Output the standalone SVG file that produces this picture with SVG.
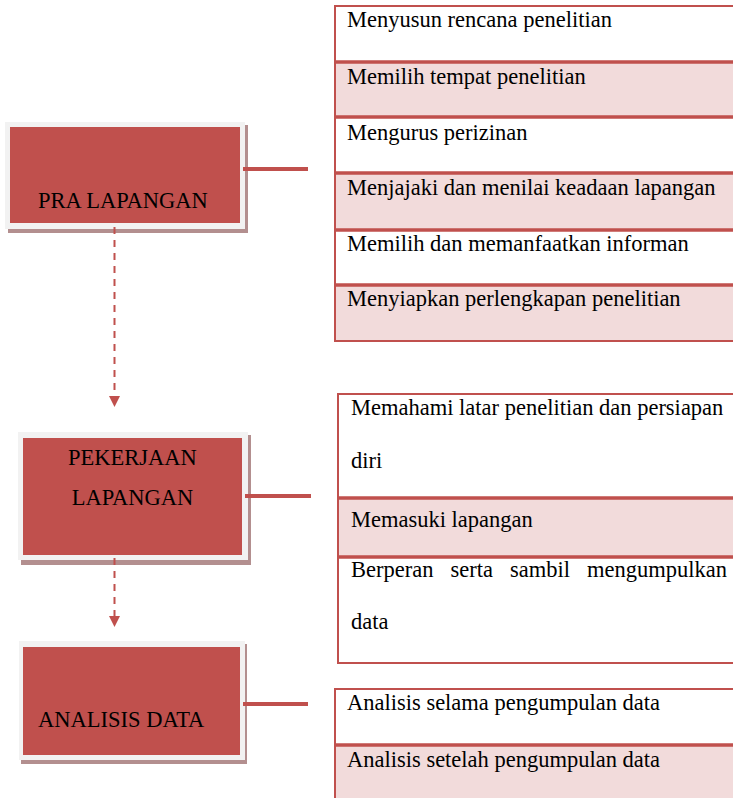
<svg xmlns="http://www.w3.org/2000/svg" width="733" height="798" viewBox="0 0 733 798">
<style>
.sh{fill:#B38F8F}
.lt{fill:#F2F2F2}
.rd{fill:#C0504D}
.bt{font-family:"Liberation Serif","Times New Roman",serif;font-size:22.5px;fill:#000}
.rw{fill:#FFFFFF;stroke:#C0504D;stroke-width:2}
.rp{fill:#F2DBDB;stroke:#C0504D;stroke-width:2}
.dv{stroke:#C0504D;stroke-width:3.5}
.tx{font-family:"Liberation Serif","Times New Roman",serif;font-size:22.5px;fill:#000}
.cn{stroke:#C0504D;stroke-width:4;fill:none}
.da{stroke:#C0504D;stroke-width:2;stroke-dasharray:7 6;fill:none}
</style>
<defs>
<marker id="ah" markerUnits="userSpaceOnUse" markerWidth="12" markerHeight="12" refX="0" refY="6" orient="auto">
<path d="M0,0.5 L11,6 L0,11.5 Z" fill="#C0504D"/>
</marker>
</defs>
<rect width="733" height="798" fill="#FFFFFF"/>

<g id="pra-lapangan">
<rect class="sh" x="8" y="125" width="240" height="108"/>
<rect class="lt" x="5" y="122" width="240" height="107"/>
<rect class="rd" x="10" y="127" width="230" height="96"/>
<text class="bt" x="38" y="208">PRA LAPANGAN</text>
</g>

<g id="pekerjaan-lapangan">
<rect class="sh" x="21" y="435" width="230" height="130"/>
<rect class="lt" x="18" y="432" width="230" height="128"/>
<rect class="rd" x="23" y="438" width="219" height="117"/>
<text class="bt" x="132.5" y="465" text-anchor="middle">PEKERJAAN</text>
<text class="bt" x="132.5" y="505" text-anchor="middle">LAPANGAN</text>
</g>

<g id="analisis-data">
<rect class="sh" x="21" y="644" width="226" height="120"/>
<rect class="lt" x="19" y="641" width="226" height="119"/>
<rect class="rd" x="23" y="647" width="217" height="108"/>
<text class="bt" x="38" y="727">ANALISIS DATA</text>
</g>

<g id="table-pra">
<rect class="rw" x="335" y="6" width="410" height="56"/>
<rect class="rp" x="335" y="62" width="410" height="55"/>
<rect class="rw" x="335" y="117" width="410" height="56"/>
<rect class="rp" x="335" y="173" width="410" height="57"/>
<rect class="rw" x="335" y="230" width="410" height="55"/>
<rect class="rp" x="335" y="285" width="410" height="56"/>
<line class="dv" x1="335" y1="62" x2="733" y2="62"/>
<line class="dv" x1="335" y1="117" x2="733" y2="117"/>
<line class="dv" x1="335" y1="173" x2="733" y2="173"/>
<line class="dv" x1="335" y1="230" x2="733" y2="230"/>
<line class="dv" x1="335" y1="285" x2="733" y2="285"/>
<text class="tx" x="347" y="27">Menyusun rencana penelitian</text>
<text class="tx" x="347" y="84">Memilih tempat penelitian</text>
<text class="tx" x="347" y="140">Mengurus perizinan</text>
<text class="tx" x="347" y="195">Menjajaki dan menilai keadaan lapangan</text>
<text class="tx" x="347" y="251">Memilih dan memanfaatkan informan</text>
<text class="tx" x="347" y="306">Menyiapkan perlengkapan penelitian</text>
</g>

<g id="table-pekerjaan">
<rect class="rw" x="338" y="394" width="410" height="104"/>
<rect class="rp" x="338" y="498" width="410" height="59"/>
<rect class="rw" x="338" y="557" width="410" height="106"/>
<line class="dv" x1="338" y1="498" x2="733" y2="498"/>
<line class="dv" x1="338" y1="557" x2="733" y2="557"/>
<text class="tx" x="351" y="415">Memahami latar penelitian dan persiapan</text>
<text class="tx" x="351" y="468">diri</text>
<text class="tx" x="351" y="527">Memasuki lapangan</text>
<text class="tx" y="577"><tspan x="351">Berperan</tspan> <tspan x="450.5">serta</tspan> <tspan x="510">sambil</tspan> <tspan x="727" text-anchor="end">mengumpulkan</tspan></text>
<text class="tx" x="351" y="629">data</text>
</g>

<g id="table-analisis">
<rect class="rw" x="335" y="689" width="410" height="56"/>
<rect class="rp" x="335" y="745" width="410" height="70"/>
<line class="dv" x1="335" y1="745" x2="733" y2="745"/>
<text class="tx" x="347" y="710">Analisis selama pengumpulan data</text>
<text class="tx" x="347" y="767">Analisis setelah pengumpulan data</text>
</g>

<g id="connectors">
<line class="cn" x1="243" y1="169" x2="308" y2="169"/>
<line class="cn" x1="245" y1="496" x2="311" y2="496"/>
<line class="cn" x1="243" y1="704" x2="308" y2="704"/>
<line class="da" x1="114.5" y1="227" x2="114.5" y2="396" marker-end="url(#ah)"/>
<line class="da" x1="114.5" y1="558" x2="114.5" y2="616" marker-end="url(#ah)"/>
</g>
</svg>
